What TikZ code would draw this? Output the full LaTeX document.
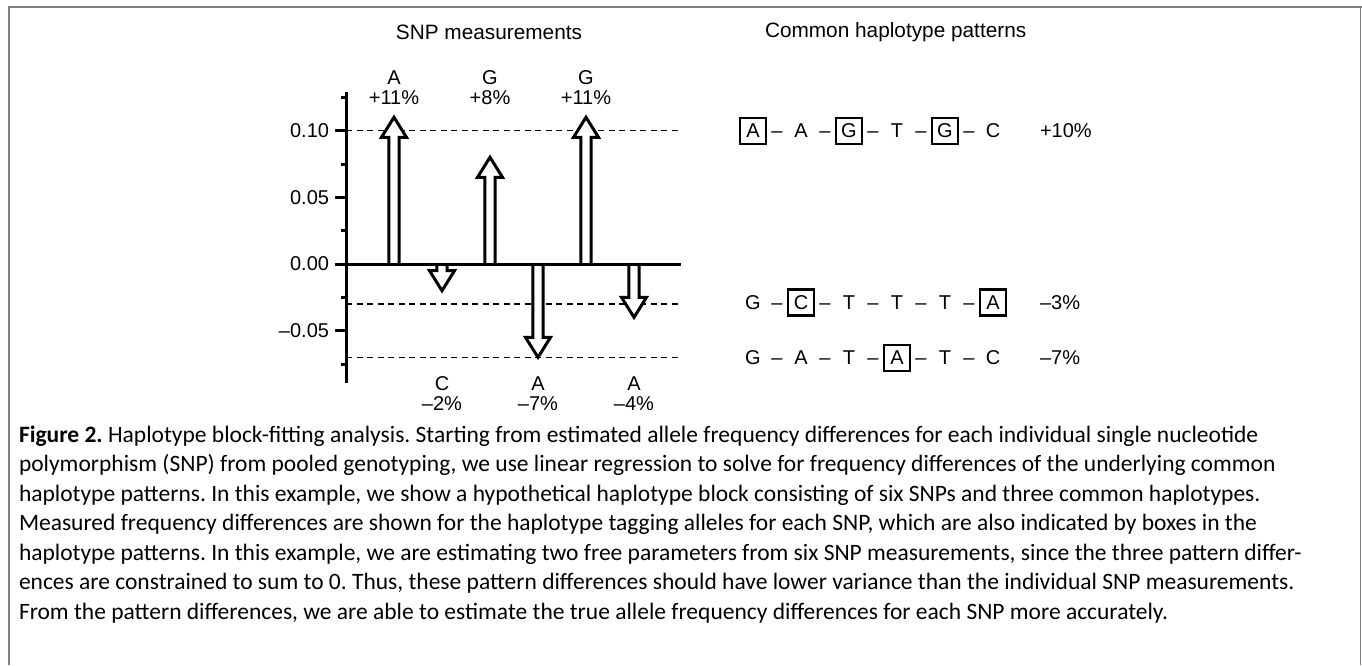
\documentclass[tikz,border=0pt]{standalone}
\usepackage{fontspec}
\setmainfont{Liberation Sans}
\newfontfamily\capfont{Carlito}
\frenchspacing
\newlength{\du}
\setlength{\du}{1pt}
\definecolor{framecolor}{rgb}{0.500000, 0.500000, 0.500000}
\definecolor{dialinecolor}{rgb}{0.000000, 0.000000, 0.000000}
% block arrow: centre x, tip y, neck y (base sits on the 0.00 line)
\newcommand{\snparrow}[3]{%
\draw[blockarrow] (#1\du-5.2\du,264\du)--(#1\du-5.2\du,#3\du)--(#1\du-12.5\du,#3\du)--(#1\du,#2\du)--(#1\du+12.5\du,#3\du)--(#1\du+5.2\du,#3\du)--(#1\du+5.2\du,264\du);}

\begin{document}
\begin{tikzpicture}[even odd rule,
  blockarrow/.style={line width=3\du, draw=dialinecolor, fill=white, line join=miter, miter limit=10},
  guide/.style={line width=1.3\du, draw=dialinecolor, dash pattern=on 6\du off 4.5\du},
  axisline/.style={line width=3\du, draw=dialinecolor},
  lbl/.style={inner sep=0pt, outer sep=0pt, color=dialinecolor, font=\fontsize{20}{24}\selectfont},
  heading/.style={lbl, font=\fontsize{20.8}{24}\selectfont},
  ticklbl/.style={lbl, anchor=east},
  allele/.style={lbl, anchor=base, minimum width=26\du, minimum height=26\du},
  tagged/.style={allele, draw=dialinecolor, line width=2.6\du},
  caption/.style={inner sep=0pt, outer sep=0pt, anchor=base west, font=\capfont\fontsize{23.5}{28}\selectfont}]
\pgftransformxscale{1.000000}
\pgftransformyscale{-1.000000}
\useasboundingbox (0\du,0\du) rectangle (1362\du,665\du);
% frame
\draw[line width=2.2\du, color=framecolor] (9\du,665\du)--(9\du,6.7\du)--(1362\du,6.7\du);
\draw[line width=1.2\du, color=framecolor] (1360.6\du,6.7\du)--(1360.6\du,665\du);
% headings
\node[heading] (snptitle) at (489\du,32\du){SNP measurements};
\node[heading, anchor=west] (haptitle) at (765\du,32\du){Common haplotype patterns};
% guide lines at +0.10, -0.03, -0.07
\draw[guide] (346\du,130.7\du)--(681\du,130.7\du);
\draw[guide] (346\du,304\du)--(681\du,304\du);
\draw[guide] (346\du,357.3\du)--(681\du,357.3\du);
% axis
\draw[axisline] (346\du,92\du)--(346\du,383\du);
\draw[axisline] (335\du,130.7\du)--(346\du,130.7\du);
\draw[axisline] (335\du,197.3\du)--(346\du,197.3\du);
\draw[axisline] (335\du,264\du)--(346\du,264\du);
\draw[axisline] (335\du,330.7\du)--(346\du,330.7\du);
\draw[axisline] (341\du,97.3\du)--(346\du,97.3\du);
\draw[axisline] (341\du,164\du)--(346\du,164\du);
\draw[axisline] (341\du,230.7\du)--(346\du,230.7\du);
\draw[axisline] (341\du,297.3\du)--(346\du,297.3\du);
\draw[axisline] (341\du,364\du)--(346\du,364\du);
\node[ticklbl] (t010) at (329\du,130.7\du){0.10};
\node[ticklbl] (t005) at (329\du,197.3\du){0.05};
\node[ticklbl] (t000) at (329\du,264\du){0.00};
\node[ticklbl] (tm005) at (329\du,330.7\du){--0.05};
% SNP arrows
\snparrow{394}{117.3}{137.3}
\snparrow{442}{290.7}{270.7}
\snparrow{490}{157.3}{177.3}
\snparrow{538}{357.3}{337.3}
\snparrow{586}{117.3}{137.3}
\snparrow{634}{317.3}{297.3}
\draw[axisline] (346\du,264\du)--(681\du,264\du);
% SNP labels
\node[lbl] (al1) at (394\du,78\du){A};
\node[lbl] (pc1) at (394\du,98\du){+11\%};
\node[lbl] (al2) at (442\du,384\du){C};
\node[lbl] (pc2) at (442\du,404\du){--2\%};
\node[lbl] (al3) at (490\du,78\du){G};
\node[lbl] (pc3) at (490\du,98\du){+8\%};
\node[lbl] (al4) at (538\du,384\du){A};
\node[lbl] (pc4) at (538\du,404\du){--7\%};
\node[lbl] (al5) at (586\du,78\du){G};
\node[lbl] (pc5) at (586\du,98\du){+11\%};
\node[lbl] (al6) at (634\du,384\du){A};
\node[lbl] (pc6) at (634\du,404\du){--4\%};
% haplotype pattern 1 (baseline = row centre + 7.2)
\node[tagged] (ha1) at (753\du,137.7\du){A};
\node[allele] (hd1) at (777\du,137.7\du){--};
\node[allele] (ha2) at (801\du,137.7\du){A};
\node[allele] (hd2) at (825\du,137.7\du){--};
\node[tagged] (ha3) at (849\du,137.7\du){G};
\node[allele] (hd3) at (873\du,137.7\du){--};
\node[allele] (ha4) at (897\du,137.7\du){T};
\node[allele] (hd4) at (921\du,137.7\du){--};
\node[tagged] (ha5) at (945\du,137.7\du){G};
\node[allele] (hd5) at (969\du,137.7\du){--};
\node[allele] (ha6) at (993\du,137.7\du){C};
\node[lbl, anchor=base west] (hpa) at (1040\du,137.7\du){+10\%};
% haplotype pattern 2
\node[allele] (hb1) at (753\du,309.2\du){G};
\node[allele] (hbd1) at (777\du,309.2\du){--};
\node[tagged] (hb2) at (801\du,309.2\du){C};
\node[allele] (hbd2) at (825\du,309.2\du){--};
\node[allele] (hb3) at (849\du,309.2\du){T};
\node[allele] (hbd3) at (873\du,309.2\du){--};
\node[allele] (hb4) at (897\du,309.2\du){T};
\node[allele] (hbd4) at (921\du,309.2\du){--};
\node[allele] (hb5) at (945\du,309.2\du){T};
\node[allele] (hbd5) at (969\du,309.2\du){--};
\node[tagged] (hb6) at (993\du,309.2\du){A};
\node[lbl, anchor=base west] (hpb) at (1040\du,309.2\du){--3\%};
% haplotype pattern 3
\node[allele] (hc1) at (753\du,364.7\du){G};
\node[allele] (hcd1) at (777\du,364.7\du){--};
\node[allele] (hc2) at (801\du,364.7\du){A};
\node[allele] (hcd2) at (825\du,364.7\du){--};
\node[allele] (hc3) at (849\du,364.7\du){T};
\node[allele] (hcd3) at (873\du,364.7\du){--};
\node[tagged] (hc4) at (897\du,364.7\du){A};
\node[allele] (hcd4) at (921\du,364.7\du){--};
\node[allele] (hc5) at (945\du,364.7\du){T};
\node[allele] (hcd5) at (969\du,364.7\du){--};
\node[allele] (hc6) at (993\du,364.7\du){C};
\node[lbl, anchor=base west] (hpc) at (1040\du,364.7\du){--7\%};
% caption
\node[caption] (cap1) at (19\du,442\du){\textbf{Figure 2.} Haplotype block-fitting analysis. Starting from estimated allele frequency differences for each individual single nucleotide};
\node[caption] (cap2) at (19\du,471.5\du){polymorphism (SNP) from pooled genotyping, we use linear regression to solve for frequency differences of the underlying common};
\node[caption] (cap3) at (19\du,501\du){haplotype patterns. In this example, we show a hypothetical haplotype block consisting of six SNPs and three common haplotypes.};
\node[caption] (cap4) at (19\du,530.5\du){Measured frequency differences are shown for the haplotype tagging alleles for each SNP, which are also indicated by boxes in the};
\node[caption] (cap5) at (19\du,560\du){haplotype patterns. In this example, we are estimating two free parameters from six SNP measurements, since the three pattern differ-};
\node[caption] (cap6) at (19\du,589.5\du){ences are constrained to sum to 0. Thus, these pattern differences should have lower variance than the individual SNP measurements.};
\node[caption] (cap7) at (19\du,619\du){From the pattern differences, we are able to estimate the true allele frequency differences for each SNP more accurately.};
\end{tikzpicture}
\end{document}
